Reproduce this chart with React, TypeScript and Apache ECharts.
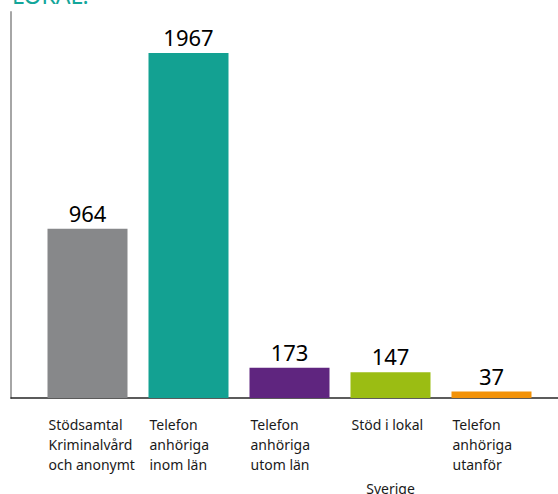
import React, { useEffect, useRef } from "react";
import * as echarts from "echarts";

const titleText = "LOKAL.";
const categories = [
  "Stödsamtal\nKriminalvård\noch anonymt",
  "Telefon\nanhöriga\ninom län",
  "Telefon\nanhöriga\nutom län",
  "Stöd i lokal",
  "Telefon\nanhöriga\nutanför",
];
const footnotes = ["", "", "", "Sverige", ""];
const values = [964, 1967, 173, 147, 37];
const barColors = ["#87888A", "#13A192", "#5F257F", "#9BBD13", "#F29208"];

export default function App() {
  const ref = useRef<HTMLDivElement>(null);
  useEffect(() => {
    document.body.style.margin = "0";
    const chart = echarts.init(ref.current!, null, { renderer: "svg" });
    const hiddenCat = {
      axisLine: { show: false },
      axisTick: { show: false },
      splitLine: { show: false },
    };
    const gridBase = { top: 12, bottom: 96, containLabel: false, outerBoundsMode: "none" };
    chart.setOption({
      animation: false,
      textStyle: { fontFamily: "Noto Sans" },
      grid: [
        { ...gridBase, left: 37, right: 16 },
        { ...gridBase, left: 11, right: 0 },
        { ...gridBase, left: -2, right: 55 },
      ],
      xAxis: [
        {
          type: "category",
          gridIndex: 0,
          data: categories,
          ...hiddenCat,
          axisLabel: { show: false },
        },
        {
          type: "value",
          gridIndex: 1,
          min: 0,
          max: 1,
          axisLine: { show: true, lineStyle: { color: "#262626", width: 1.5 } },
          axisTick: { show: false },
          axisLabel: { show: false },
          splitLine: { show: false },
        },
        {
          type: "category",
          gridIndex: 2,
          data: categories,
          ...hiddenCat,
          axisLabel: {
            interval: 0,
            align: "left",
            fontSize: 14,
            lineHeight: 20,
            color: "#1a1a1a",
            margin: 16,
          },
        },
        {
          type: "category",
          gridIndex: 0,
          position: "bottom",
          data: footnotes,
          ...hiddenCat,
          axisLabel: {
            interval: 0,
            align: "center",
            fontSize: 14,
            lineHeight: 20,
            color: "#1a1a1a",
            margin: 80,
          },
        },
      ],
      yAxis: [
        { type: "value", gridIndex: 0, min: 0, max: 2200, show: false },
        {
          type: "value",
          gridIndex: 1,
          min: 0,
          max: 1,
          axisLine: { show: true, lineStyle: { color: "#A6A6A6", width: 2 } },
          axisTick: { show: false },
          axisLabel: { show: false },
          splitLine: { show: false },
        },
        { type: "value", gridIndex: 2, min: 0, max: 1, show: false },
      ],
      series: [
        {
          type: "bar",
          xAxisIndex: 0,
          yAxisIndex: 0,
          barWidth: 80,
          data: values.map((v, i) => ({ value: v, itemStyle: { color: barColors[i] } })),
          label: {
            show: true,
            position: "top",
            distance: 5,
            fontSize: 22,
            color: "#000",
          },
        },
      ],
      graphic: [
        {
          type: "text",
          x: 12,
          y: -5,
          style: {
            text: titleText,
            fill: "#13A69A",
            font: '23px "Noto Sans"',
            verticalAlign: "middle",
          },
        },
      ],
    });
    return () => chart.dispose();
  }, []);
  return <div ref={ref} style={{ width: 558, height: 494 }} />;
}
